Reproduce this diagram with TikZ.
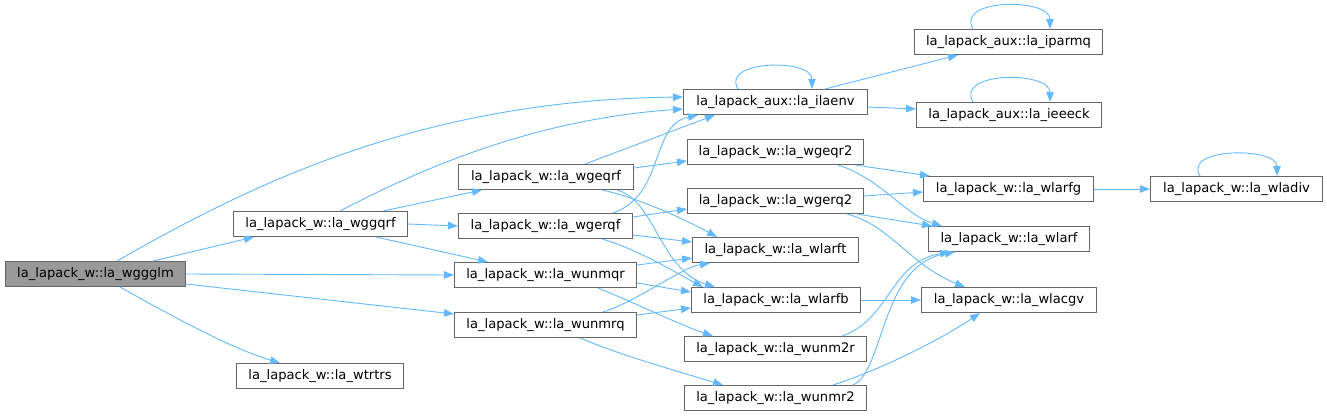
\documentclass[tikz,border=0pt]{standalone}
\usepackage{fontspec}
\setmainfont{DejaVu Sans}
\usetikzlibrary{arrows.meta}
\definecolor{edgeblue}{HTML}{63B8FF}
\definecolor{boxborder}{HTML}{666666}
\definecolor{rootfill}{HTML}{999999}
\tikzset{
  fn/.style={draw=boxborder, fill=white, line width=1pt, minimum height=25pt, inner sep=0pt,
    anchor=north west, font=\fontsize{13.1}{15}\selectfont},
  rootfn/.style={fn, fill=rootfill},
  call/.style={draw=edgeblue, line width=0.9pt, -{Triangle[length=10pt,width=7.5pt]}}
}
\begin{document}
\begin{tikzpicture}[x=1pt,y=-1pt]
\useasboundingbox (0,0) rectangle (1327,416);
% nodes
\node[rootfn, minimum width=180pt] (wggglm) at (5,261) {la\_lapack\_w::la\_wggglm};
\node[fn, minimum width=174pt] (wggqrf) at (233,211) {la\_lapack\_w::la\_wggqrf};
\node[fn, minimum width=167pt] (wtrtrs) at (236,363) {la\_lapack\_w::la\_wtrtrs};
\node[fn, minimum width=184pt] (ilaenv) at (683,89) {la\_lapack\_aux::la\_ilaenv};
\node[fn, minimum width=175pt] (wgeqrf) at (458,164) {la\_lapack\_w::la\_wgeqrf};
\node[fn, minimum width=174pt] (wgerqf) at (458,213) {la\_lapack\_w::la\_wgerqf};
\node[fn, minimum width=182pt] (wunmqr) at (454,262) {la\_lapack\_w::la\_wunmqr};
\node[fn, minimum width=182pt] (wunmrq) at (454,312) {la\_lapack\_w::la\_wunmrq};
\node[fn, minimum width=176pt] (wgeqr2) at (687,139) {la\_lapack\_w::la\_wgeqr2};
\node[fn, minimum width=176pt] (wgerq2) at (687,188) {la\_lapack\_w::la\_wgerq2};
\node[fn, minimum width=166pt] (wlarft) at (692,237) {la\_lapack\_w::la\_wlarft};
\node[fn, minimum width=169pt] (wlarfb) at (691,287) {la\_lapack\_w::la\_wlarfb};
\node[fn, minimum width=182pt] (wunm2r) at (684,336) {la\_lapack\_w::la\_wunm2r};
\node[fn, minimum width=182pt] (wunmr2) at (684,385) {la\_lapack\_w::la\_wunmr2};
\node[fn, minimum width=188pt] (iparmq) at (914,29) {la\_lapack\_aux::la\_iparmq};
\node[fn, minimum width=185pt] (ieeeck) at (916,102) {la\_lapack\_aux::la\_ieeeck};
\node[fn, minimum width=170pt] (wlarfg) at (923,176) {la\_lapack\_w::la\_wlarfg};
\node[fn, minimum width=161pt] (wlarf) at (928,226) {la\_lapack\_w::la\_wlarf};
\node[fn, minimum width=175pt] (wlacgv) at (921,287) {la\_lapack\_w::la\_wlacgv};
\node[fn, minimum width=172pt] (wladiv) at (1150,176) {la\_lapack\_w::la\_wladiv};
% edges
\draw[call] (117,0 |- wggglm.north) .. controls (250,185) and (420,100) .. (ilaenv.west |- 0,97);
\draw[call] (340,0 |- wggqrf.north) .. controls (400,180) and (520,120) .. (ilaenv.west |- 0,109);
\draw[call] (153,0 |- wggglm.north) -- (254,0 |- wggqrf.south);
\draw[call] (wggglm.east) -- (wunmqr.west);
\draw[call] (wggglm.east |- 0,284) -- (wunmrq.west |- 0,314);
\draw[call] (120,0 |- wggglm.south) .. controls (170,315) and (230,348) .. (280,0 |- wtrtrs.north);
\draw[call] (383,0 |- wggqrf.north) -- (482,0 |- wgeqrf.south);
\draw[call] (wggqrf.east) -- (wgerqf.west);
\draw[call] (376,0 |- wggqrf.south) -- (488,0 |- wunmqr.north);
\draw[call] (585,0 |- wgeqrf.north) -- (715,0 |- ilaenv.south);
\draw[call] (613,0 |- wgerqf.north) .. controls (665,195) and (650,125) .. (698,0 |- ilaenv.south);
\draw[call] (wgeqrf.east |- 0,168) -- (wgeqr2.west |- 0,161);
\draw[call] (602,0 |- wgeqrf.south) .. controls (640,198) and (690,222) .. (717,0 |- wlarft.north);
\draw[call] (617,0 |- wgeqrf.south) .. controls (655,200) and (660,270) .. (715,0 |- wlarfb.north);
\draw[call] (wgerqf.east |- 0,217) -- (wgerq2.west |- 0,209);
\draw[call] (wgerqf.east |- 0,235) -- (wlarft.west |- 0,242);
\draw[call] (602,0 |- wgerqf.south) .. controls (640,250) and (680,275) .. (703,0 |- wlarfb.north);
\draw[call] (wunmqr.east |- 0,265) -- (wlarft.west |- 0,258);
\draw[call] (wunmqr.east |- 0,283) -- (wlarfb.west |- 0,292);
\draw[call] (598,0 |- wunmqr.south) .. controls (640,305) and (680,325) .. (713,0 |- wunm2r.north);
\draw[call] (603,0 |- wunmrq.north) .. controls (640,300) and (680,268) .. (710,0 |- wlarft.south);
\draw[call] (wunmrq.east |- 0,315) -- (wlarfb.west |- 0,308);
\draw[call] (580,0 |- wunmrq.south) .. controls (620,355) and (680,372) .. (723,0 |- wunmr2.north);
\draw[call] (738,0 |- ilaenv.north) .. controls (720,60) and (812,58) .. (812,0 |- ilaenv.north);
\draw[call] (825,0 |- ilaenv.north) -- (958,0 |- iparmq.south);
\draw[call] (ilaenv.east |- 0,107) -- (ieeeck.west |- 0,109);
\draw[call] (973,0 |- iparmq.north) .. controls (955,-2) and (1050,-2) .. (1050,0 |- iparmq.north);
\draw[call] (973,0 |- ieeeck.north) .. controls (955,71) and (1050,71) .. (1050,0 |- ieeeck.north);
\draw[call] (855,0 |- wgeqr2.south) -- (930,0 |- wlarfg.north);
\draw[call] (838,0 |- wgeqr2.south) .. controls (880,178) and (905,215) .. (942,0 |- wlarf.north);
\draw[call] (wgerq2.east |- 0,196) -- (wlarfg.west |- 0,192);
\draw[call] (857,0 |- wgerq2.south) -- (932,0 |- wlarf.north);
\draw[call] (847,0 |- wgerq2.south) .. controls (890,225) and (910,265) .. (965,0 |- wlacgv.north);
\draw[call] (wlarfb.east) -- (wlacgv.west);
\draw[call] (842,0 |- wunm2r.north) .. controls (890,320) and (890,262) .. (950,0 |- wlarf.south);
\draw[call] (853,0 |- wunmr2.north) .. controls (885,370) and (880,265) .. (955,0 |- wlarf.south);
\draw[call] (833,0 |- wunmr2.north) .. controls (880,370) and (940,340) .. (980,0 |- wlacgv.south);
\draw[call] (wlarfg.east) -- (wladiv.west);
\draw[call] (1200,0 |- wladiv.north) .. controls (1182,147) and (1277,147) .. (1277,0 |- wladiv.north);
\end{tikzpicture}
\end{document}
